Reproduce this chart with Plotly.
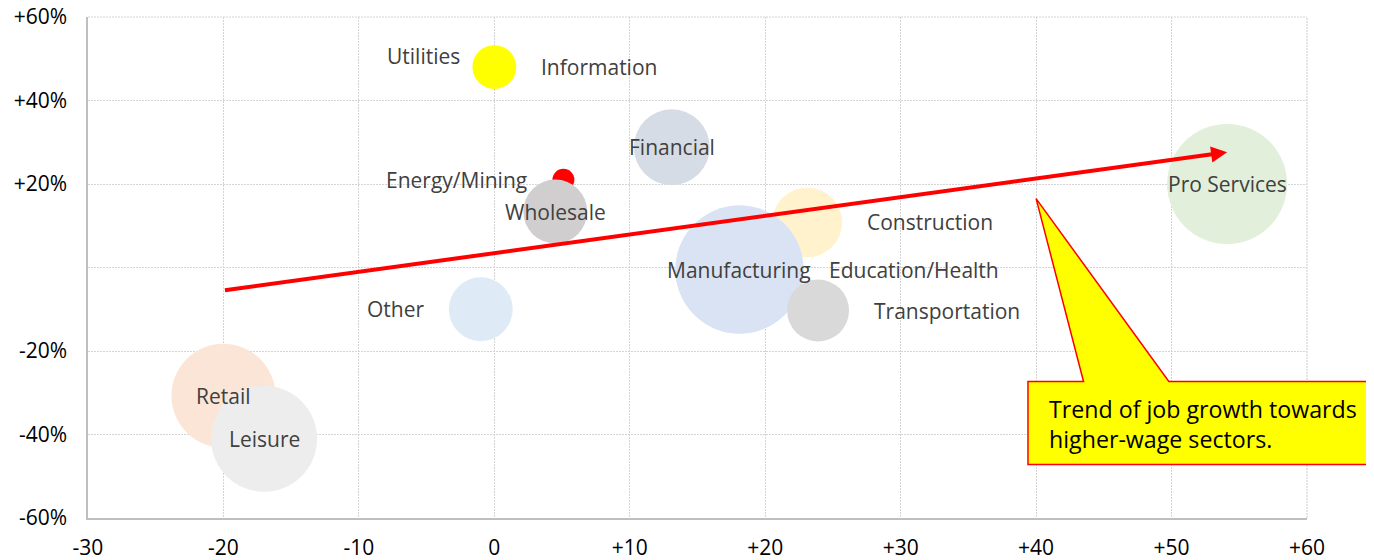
import math
import plotly.graph_objects as go

# ---------------- data ----------------
sectors = ["Utilities", "Information", "Energy/Mining", "Wholesale", "Financial",
           "Construction", "Education/Health", "Manufacturing", "Transportation",
           "Other", "Retail", "Leisure", "Pro Services"]
wage_change = [0.0, 0.0, 5.1, 4.5, 13.1, 23.1, 18.1, 18.1, 23.9, -1.0, -20.0, -17.0, 54.1]
job_growth = [50.6, 48.0, 21.0, 13.4, 28.8, 10.8, -0.5, -0.5, -10.3, -10.0, -30.7, -41.0, 20.0]
employment = [8, 48, 12, 102, 144, 122, 410, 410, 96, 102, 270, 281, 360]

x_tick_values = [-30, -20, -10, 0, 10, 20, 30, 40, 50, 60]
x_tick_labels = ["-30", "-20", "-10", "0", "+10", "+20", "+30", "+40", "+50", "+60"]
y_tick_values = [-60, -40, -20, 0, 20, 40, 60]
y_tick_labels = ["-60%", "-40%", "-20%", "", "+20%", "+40%", "+60%"]

trend_x = [-20.0, 54.1]
trend_y = [-5.5, 27.6]

callout_text = "Trend of job growth towards<br>higher-wage sectors."

# ---------------- styles ----------------
colors = {
    "Utilities": "#ffff00", "Information": "#ffff00", "Energy/Mining": "#ff0000",
    "Wholesale": "#d0cece", "Financial": "#d6dce5", "Construction": "#fff2cc",
    "Education/Health": "#dae3f3", "Manufacturing": "#dae3f3",
    "Transportation": "#d9d9d9", "Other": "#deebf7", "Retail": "#fbe5d6",
    "Leisure": "#ededed", "Pro Services": "#e2efda",
}
label_side = {
    "Utilities": "left", "Information": "right", "Energy/Mining": "left",
    "Wholesale": "center", "Financial": "center", "Construction": "right",
    "Education/Health": "right", "Manufacturing": "center",
    "Transportation": "right", "Other": "left", "Retail": "center",
    "Leisure": "center", "Pro Services": "center",
}
SIZEREF = 0.05
LABEL_GAP = 23
FONT = "Open Sans"
LABEL_FONT_SIZE = 21
TICK_FONT_SIZE = 21
GRID_COLOR = "#d4d4d4"
GRID_DASH = "2px,1px"

X_RANGE = [-30, 60]
Y_RANGE = [-60, 60]

fig = go.Figure()
fig.add_trace(go.Scatter(
    x=wage_change, y=job_growth, mode="markers",
    marker=dict(size=employment, sizemode="area", sizeref=SIZEREF,
                color=[colors[s] for s in sectors], line=dict(width=0), opacity=1),
    text=sectors, hoverinfo="text", showlegend=False, cliponaxis=False,
))

annotations = []
for name, xv, yv, sz in zip(sectors, wage_change, job_growth, employment):
    r = math.sqrt(sz / 2 / SIZEREF)
    side = label_side[name]
    if side == "left":
        xa, shift = "right", -(r + LABEL_GAP)
    elif side == "right":
        xa, shift = "left", r + LABEL_GAP
    else:
        xa, shift = "center", 0
    annotations.append(dict(
        x=xv, y=yv, xref="x", yref="y", text=name, showarrow=False,
        xanchor=xa, yanchor="middle", xshift=shift,
        font=dict(family=FONT, size=LABEL_FONT_SIZE, color="#404040"),
    ))

# trend arrow
annotations.append(dict(
    x=trend_x[1], y=trend_y[1], ax=trend_x[0], ay=trend_y[0],
    xref="x", yref="y", axref="x", ayref="y", text="", showarrow=True,
    arrowhead=2, arrowsize=0.8, arrowwidth=4, arrowcolor="#ff0000",
    standoff=0, startstandoff=0,
))


def px(x):
    return (x - X_RANGE[0]) / (X_RANGE[1] - X_RANGE[0])


def py(y):
    return (y - Y_RANGE[0]) / (Y_RANGE[1] - Y_RANGE[0])


# callout (data-space geometry converted to paper space so it can overflow the plot)
tip = (40.0, 16.5)
box_l, box_r, box_t, box_b = 39.4, 64.6, -27.3, -47.2
base_l, base_r = 43.5, 49.8
pts = [tip, (base_r, box_t), (box_r, box_t), (box_r, box_b), (box_l, box_b),
       (box_l, box_t), (base_l, box_t)]
path = "M " + " L ".join(f"{px(a):.5f},{py(b):.5f}" for a, b in pts) + " Z"

# the page body has an 8px margin, so the figure is sized/offset to compensate
W, H = 1366, 552
ML, MR, MT, MB = 80, 67, 9, 42

shapes = [
    # dotted border gridlines at the top and right edges of the plot
    dict(type="line", xref="paper", yref="paper", x0=0, x1=1, y0=1, y1=1,
         line=dict(color=GRID_COLOR, width=1.2, dash=GRID_DASH), layer="below"),
    dict(type="line", xref="paper", yref="paper", x0=1, x1=1, y0=0, y1=1,
         line=dict(color=GRID_COLOR, width=1.2, dash=GRID_DASH), layer="below"),
    dict(type="path", path=path, xref="paper", yref="paper",
         fillcolor="#ffff00", line=dict(color="#ff0000", width=1.5), layer="above"),
]

annotations.append(dict(
    x=px(40.84), y=py(-37.4), xref="paper", yref="paper", text=callout_text,
    showarrow=False, xanchor="left", yanchor="middle", align="left",
    font=dict(family=FONT, size=23.2, color="#000000"),
))

fig.update_layout(
    width=W, height=H, margin=dict(l=ML, r=MR, t=MT, b=MB, autoexpand=False),
    paper_bgcolor="white", plot_bgcolor="white",
    shapes=shapes, annotations=annotations,
    font=dict(family=FONT),
)
fig.update_xaxes(
    range=X_RANGE, tickvals=x_tick_values, ticktext=x_tick_labels,
    showgrid=True, gridcolor=GRID_COLOR, griddash=GRID_DASH, gridwidth=1.2,
    zeroline=False, showline=True, linecolor="#bfbfbf", linewidth=1.5,
    ticks="", ticklabelstandoff=10, automargin=False, ticklabeloverflow="allow",
    tickfont=dict(family=FONT, size=TICK_FONT_SIZE, color="#000000"),
)
fig.update_yaxes(
    range=Y_RANGE, tickvals=y_tick_values, ticktext=y_tick_labels,
    showgrid=True, gridcolor=GRID_COLOR, griddash=GRID_DASH, gridwidth=1.2,
    zeroline=False, showline=True, linecolor="#bfbfbf", linewidth=1.5,
    ticks="", ticklabelstandoff=15, automargin=False, ticklabeloverflow="allow",
    tickfont=dict(family=FONT, size=TICK_FONT_SIZE, color="#000000"),
)

fig.write_html("out.html")
